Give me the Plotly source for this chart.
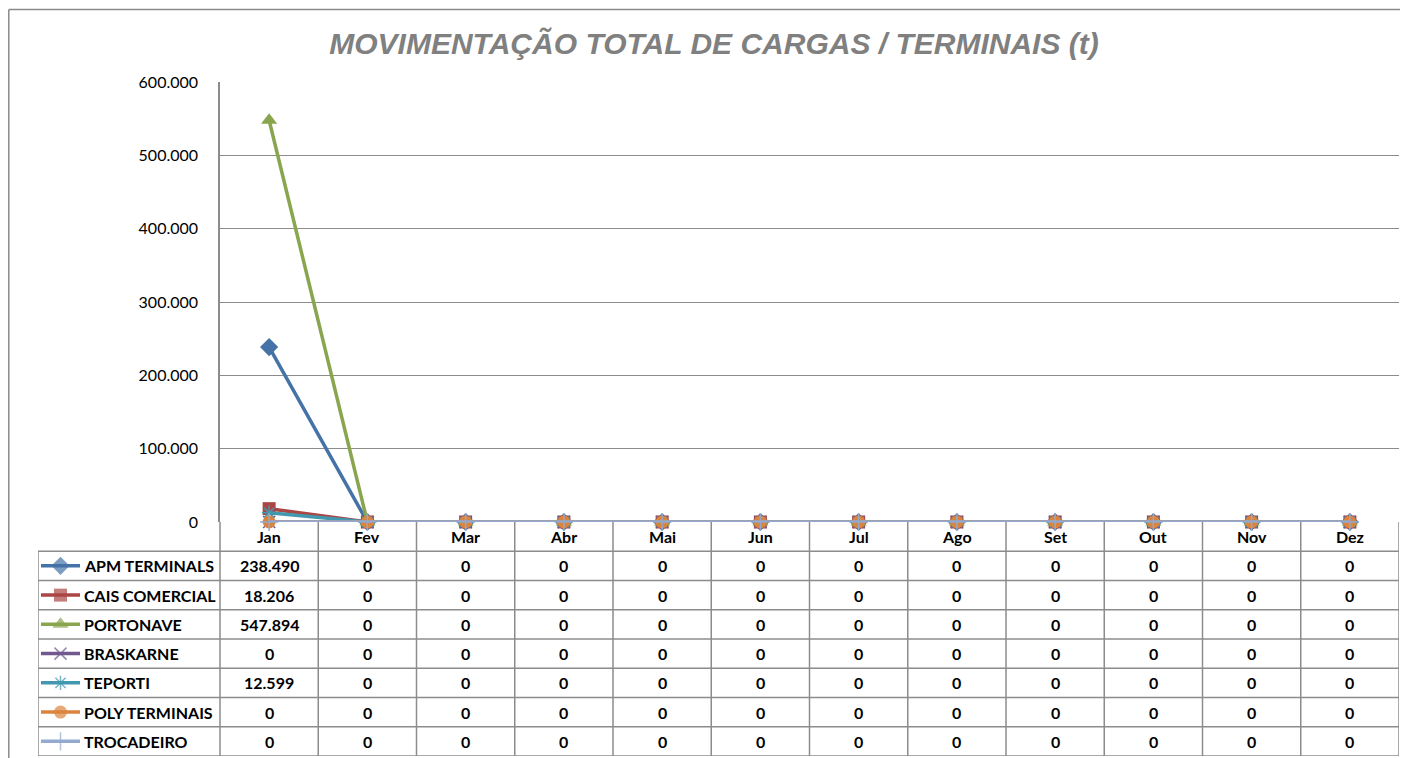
import plotly.graph_objects as go

months = ["Jan", "Fev", "Mar", "Abr", "Mai", "Jun", "Jul", "Ago", "Set", "Out", "Nov", "Dez"]
series_names = ["APM TERMINALS", "CAIS COMERCIAL", "PORTONAVE", "BRASKARNE",
                "TEPORTI", "POLY TERMINAIS", "TROCADEIRO"]
apm = [238490, 0, 0, 0, 0, 0, 0, 0, 0, 0, 0, 0]
cais = [18206, 0, 0, 0, 0, 0, 0, 0, 0, 0, 0, 0]
portonave = [547894, 0, 0, 0, 0, 0, 0, 0, 0, 0, 0, 0]
braskarne = [0, 0, 0, 0, 0, 0, 0, 0, 0, 0, 0, 0]
teporti = [12599, 0, 0, 0, 0, 0, 0, 0, 0, 0, 0, 0]
poly = [0, 0, 0, 0, 0, 0, 0, 0, 0, 0, 0, 0]
trocadeiro = [0, 0, 0, 0, 0, 0, 0, 0, 0, 0, 0, 0]
series_values = [apm, cais, portonave, braskarne, teporti, poly, trocadeiro]
y_tickvals = [0, 100000, 200000, 300000, 400000, 500000, 600000]

colors = ["#4572A7", "#AA4643", "#89A54E", "#71588F", "#4198AF", "#DB843D", "#93A9CF"]
symbols = ["diamond", "square", "triangle-up", "x-thin", "asterisk", "circle", "cross-thin"]
msizes = [14, 13, 14, 12, 12, 13, 13]

# page body has an 8px margin
OFF = 8
W, H = 1411 - 2 * OFF, 758 - OFF
def px(x):
    return (x - OFF) / W
def py(y):
    return 1 - (y - OFF) / H

GRID = "#8c8c8c"
FONT = "Lato"
TSIZE = 16

fig = go.Figure()

for name, vals, c, s, ms in zip(series_names, series_values, colors, symbols, msizes):
    thin = s.endswith("-thin") or s == "asterisk"
    fig.add_trace(go.Scatter(
        x=months, y=vals, name=name, mode="lines+markers",
        line=dict(color=c, width=3.5),
        marker=dict(symbol=s, size=ms, color=c,
                    line=dict(color=c, width=1.5 if thin else 0)),
        cliponaxis=False, showlegend=False, xaxis="x", yaxis="y"))

col_px = (1399 - 220) / 12.0
left_units = -0.5 - (220 - 38) / col_px

for i, (name, c, s, ms) in enumerate(zip(series_names, colors, symbols, msizes)):
    thin = s.endswith("-thin") or s == "asterisk"
    kx0 = left_units + 3 / col_px
    kx1 = left_units + 42 / col_px
    fig.add_trace(go.Scatter(
        x=[kx0, (kx0 + kx1) / 2, kx1], y=[i, i, i], mode="lines+markers",
        line=dict(color=c, width=3.5),
        marker=dict(symbol=s, size=[0, ms, 0], color=c,
                    line=dict(color=c, width=1.5 if thin else 0)),
        cliponaxis=False, showlegend=False, hoverinfo="skip",
        xaxis="x2", yaxis="y2"))
    fig.add_annotation(x=left_units + 44 / col_px, y=i, xref="x2", yref="y2",
                       text="<b>%s</b>" % name, showarrow=False, xanchor="left",
                       font=dict(family=FONT, size=TSIZE, color="#000"))
    for j, v in enumerate(series_values[i]):
        fig.add_annotation(x=j, y=i, xref="x2", yref="y2",
                           text="<b>%s</b>" % f"{v:,}".replace(",", "."),
                           showarrow=False, font=dict(family=FONT, size=TSIZE, color="#000"))

for j, m in enumerate(months):
    fig.add_annotation(x=j, y=-1, xref="x2", yref="y2", text="<b>%s</b>" % m,
                       showarrow=False, font=dict(family=FONT, size=TSIZE, color="#000"))

nrows = len(series_names)
shapes = []
for r in range(nrows + 1):
    shapes.append(dict(type="line", xref="x2", yref="y2", x0=left_units, x1=11.5,
                       y0=r - 0.5, y1=r - 0.5, line=dict(color=GRID, width=1.5)))
shapes.append(dict(type="line", xref="x2", yref="y2", x0=left_units, x1=left_units,
                   y0=-0.5, y1=nrows - 0.5, line=dict(color=GRID, width=1.5)))
for k in range(13):
    shapes.append(dict(type="line", xref="x2", yref="y2", x0=k - 0.5, x1=k - 0.5,
                       y0=-1.5, y1=nrows - 0.5, line=dict(color=GRID, width=1.5)))
# outer chart border (top and left edges; the rest falls outside the window)
shapes.append(dict(type="line", xref="paper", yref="paper", x0=px(8.8), x1=px(1400),
                   y0=py(9.5), y1=py(9.5), line=dict(color="#8a8a8a", width=1.5),
                   layer="below"))
shapes.append(dict(type="line", xref="paper", yref="paper", x0=px(8.8), x1=px(8.8),
                   y0=0, y1=py(9.5), line=dict(color="#8a8a8a", width=1.5),
                   layer="below"))

fig.update_layout(
    width=W, height=H,
    margin=dict(l=0, r=0, t=0, b=0, pad=0),
    paper_bgcolor="white", plot_bgcolor="white",
    separators=",.",
    shapes=shapes,
    title=dict(text="<b><i>MOVIMENTAÇÃO TOTAL DE CARGAS / TERMINAIS (t)</i></b>",
               x=px(714), y=py(43), xanchor="center", yanchor="middle",
               font=dict(family="Liberation Sans", size=30, color="#808080")),
    xaxis=dict(domain=[px(220), px(1399)], type="category", range=[-0.5, 11.5],
               showticklabels=False, showgrid=False, zeroline=False, showline=False,
               automargin=False, fixedrange=True),
    yaxis=dict(domain=[py(522), py(82)], range=[0, 600000], tickvals=y_tickvals,
               tickformat=",", showgrid=True, gridcolor=GRID, gridwidth=1,
               zeroline=False, showline=True, linecolor=GRID, linewidth=1.5,
               ticklabelstandoff=17, automargin=False,
               tickfont=dict(family=FONT, size=16, color="#000")),
    xaxis2=dict(domain=[px(38), px(1399)], range=[left_units, 11.5], visible=False,
                anchor="y2", automargin=False),
    yaxis2=dict(domain=[py(756), py(522)], range=[nrows - 0.5, -1.5], visible=False,
                anchor="x2", automargin=False),
)

fig.write_html("out.html")
